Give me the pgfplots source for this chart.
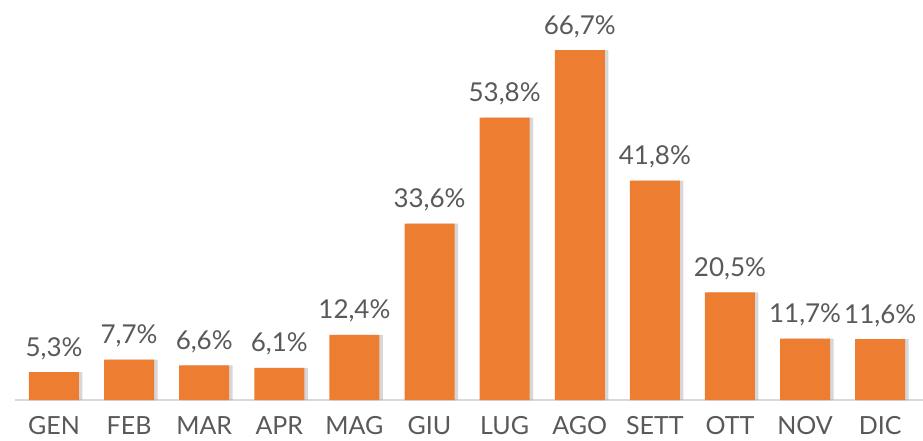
\documentclass[border=0pt]{standalone}
\usepackage{pgfplots}
\pgfplotsset{compat=1.18}
\usepackage{fontspec}
\setmainfont{Lato}
\definecolor{barorange}{HTML}{ED7D31}
\definecolor{txtgray}{HTML}{595959}
\definecolor{basegray}{HTML}{D9D9D9}
\begin{document}
\begin{tikzpicture}
\begin{axis}[
  scale only axis,
  width=908pt, height=350pt,
  xmin=-0.519, xmax=11.57,
  ymin=0, ymax=66.7,
  axis y line=none,
  axis x line*=bottom,
  x axis line style={draw=basegray, line width=1.8pt, -},
  xtick={0,...,11},
  xticklabels={GEN,FEB,MAR,APR,MAG,GIU,LUG,AGO,SETT,OTT,NOV,DIC},
  major tick length=0pt,
  xticklabel style={anchor=base, yshift=-34pt, font=\fontsize{25}{29}\selectfont, text=txtgray},
  clip=false,
  /pgf/number format/assume math mode=true,
]
\addplot[ybar, bar width=50pt, bar shift=3.5pt, fill=black!35, draw=none, opacity=0.45, forget plot]
  coordinates {(0,5.3) (1,7.7) (2,6.6) (3,6.1) (4,12.4) (5,33.6) (6,53.8) (7,66.7) (8,41.8) (9,20.5) (10,11.7) (11,11.6)};
\addplot[ybar, bar width=50pt, bar shift=0pt, fill=barorange, draw=none,
  nodes near coords={\pgfmathprintnumber[fixed,fixed zerofill,precision=1,use comma]{\pgfplotspointmeta}\%},
  every node near coord/.style={anchor=base, yshift=16pt, font=\fontsize{26}{30}\selectfont, text=txtgray, inner sep=0pt},
  ]
  coordinates {(0,5.3) (1,7.7) (2,6.6) (3,6.1) (4,12.4) (5,33.6) (6,53.8) (7,66.7) (8,41.8) (9,20.5) (10,11.7) (11,11.6)};
\end{axis}
\pgfresetboundingbox
\path[use as bounding box] (-15pt,-40pt) rectangle (908pt,400pt);
\end{tikzpicture}
\end{document}
